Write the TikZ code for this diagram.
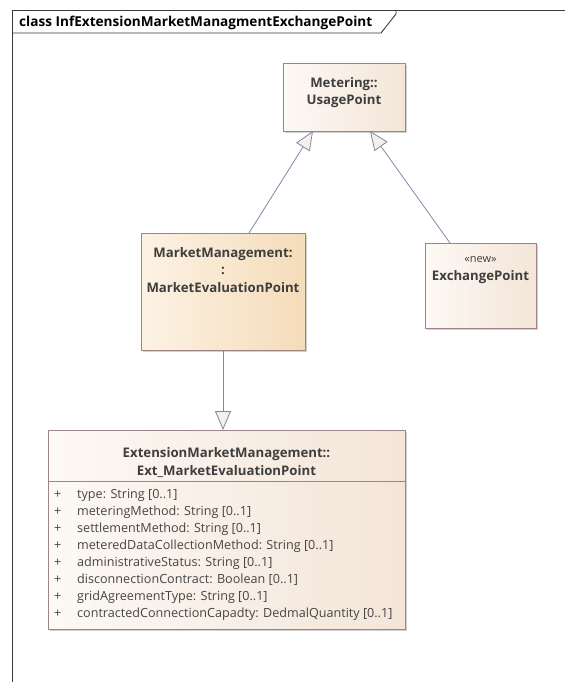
\documentclass[tikz,border=0pt]{standalone}
\usepackage{fontspec}
\setmainfont{Open Sans}
\usetikzlibrary{arrows.meta,shadows}

\definecolor{frameline}{HTML}{3A3A3A}
\definecolor{boxline}{HTML}{A08484}
\definecolor{linkline}{HTML}{7D88A5}
\definecolor{headtext}{HTML}{3E3E3E}
\definecolor{attrtext}{HTML}{454545}
\definecolor{paleL}{HTML}{FDF9F5}
\definecolor{paleR}{HTML}{F4E5D8}
\definecolor{warmL}{HTML}{FCF2E4}
\definecolor{warmR}{HTML}{F5DCBA}
\definecolor{tipfill}{HTML}{F8EEEA}

\tikzset{
  classbox/.style={draw=boxline, line width=0.8pt, anchor=north west,
    inner sep=0pt, left color=paleL, right color=paleR,
    general shadow={shadow xshift=2pt, shadow yshift=-2pt, fill=black!18}},
  warmbox/.style={classbox, left color=warmL, right color=warmR},
  headline/.style={anchor=base, inner sep=0pt, text=headtext,
    font=\fontsize{13.2}{15}\selectfont\bfseries},
  stereo/.style={anchor=base, inner sep=0pt, text=headtext,
    font=\fontsize{11}{13}\selectfont},
  attr/.style={anchor=base west, inner sep=0pt, text=attrtext,
    font=\fontsize{12.6}{14}\selectfont},
  generalize/.style={draw=linkline, line width=0.8pt,
    -{Triangle[length=19pt, width=16pt, fill=tipfill]}},
}

\begin{document}
\begin{tikzpicture}[x=1pt, y=-1pt]
  \useasboundingbox (0,0) rectangle (565,682);

  % diagram frame with its name tab
  \draw[frameline, line width=0.9pt] (12,682) -- (12,10) -- (565,10);
  \draw[frameline, line width=0.9pt] (12,33) -- (381,33) -- (396,14) -- (396,10);
  \node[anchor=base west, inner sep=0pt, font=\fontsize{13.6}{16}\selectfont\bfseries]
    (title) at (19,27) {class InfExtensionMarketManagmentExchangePoint};

  % classes
  \node[classbox, minimum width=122pt, minimum height=68pt] (usage) at (283,63) {};
  \node[headline] (usageA) at (344,88) {Metering::};
  \node[headline] (usageB) at (344,105) {UsagePoint};

  \node[warmbox, minimum width=164pt, minimum height=117pt] (mep) at (141,233) {};
  \node[headline] (mepA) at (223,257) {MarketManagement:};
  \node[headline] (mepB) at (223,274.5) {:};
  \node[headline] (mepC) at (223,292) {MarketEvaluationPoint};

  \node[classbox, minimum width=111pt, minimum height=85pt] (xp) at (425,243) {};
  \node[stereo] (xpA) at (480.5,262) {«new»};
  \node[headline] (xpB) at (480.5,280) {ExchangePoint};

  \node[classbox, minimum width=357pt, minimum height=199pt] (ext) at (48,430) {};
  \node[headline] (extA) at (226.5,457) {ExtensionMarketManagement::};
  \node[headline] (extB) at (226.5,475) {Ext\_MarketEvaluationPoint};
  \draw[boxline, line width=0.8pt] (ext.west |- 0,481) coordinate (sepL) -- (ext.east |- 0,481) coordinate (sepR);

  \foreach \txt [count=\i from 0] in {
      type: String [0..1],
      meteringMethod: String [0..1],
      settlementMethod: String [0..1],
      meteredDataCollectionMethod: String [0..1],
      administrativeStatus: String [0..1],
      disconnectionContract: Boolean [0..1],
      gridAgreementType: String [0..1],
      contractedConnectionCapadty: DedmalQuantity [0..1]} {
    \node[attr] (plus\i) at (54,498+17.1*\i) {+};
    \node[attr] (attr\i) at (77,498+17.1*\i) {\txt};
  }

  % generalizations
  \coordinate (mepTop) at (249,233);
  \coordinate (usageL) at (313,131);
  \coordinate (xpTop) at (450,243);
  \coordinate (usageR) at (370,131);
  \coordinate (mepBot) at (223,350);
  \coordinate (extTop) at (223,430);
  \draw[generalize] (mepTop) -- (usageL);
  \draw[generalize] (xpTop) -- (usageR);
  \draw[generalize] (mepBot) -- (extTop);
\end{tikzpicture}
\end{document}
